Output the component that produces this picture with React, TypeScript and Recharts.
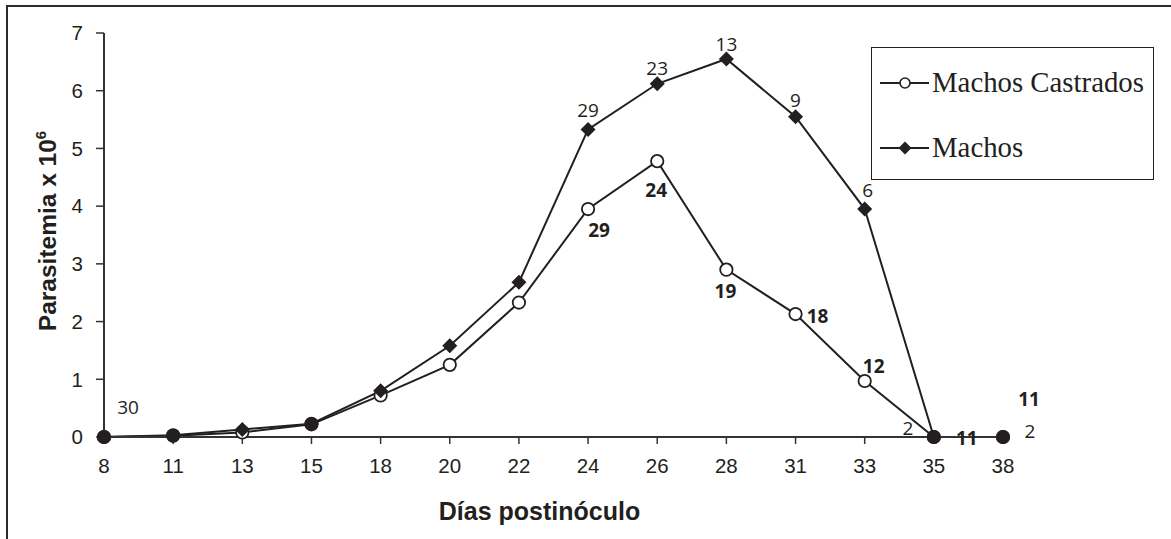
import React from "react";
import { LineChart, Line, XAxis, YAxis, LabelList } from "recharts";

// días postinóculo (categorías del eje X)
const dias = ["8", "11", "13", "15", "18", "20", "22", "24", "26", "28", "31", "33", "35", "38"];
// parasitemia x 10^6
const machosCastrados = [0, 0.02, 0.08, 0.22, 0.72, 1.25, 2.33, 3.95, 4.78, 2.9, 2.13, 0.97, 0, 0];
const machos = [0, 0.03, 0.13, 0.23, 0.8, 1.58, 2.68, 5.33, 6.12, 6.55, 5.55, 3.95, 0, 0];
// n de animales por punto
const nMachos = [30, null, null, null, null, null, null, 29, 23, 13, 9, 6, 2, 2];
const nCastrados = [null, null, null, null, null, null, null, 29, 24, 19, 18, 12, 11, 11];
const yTicks = [0, 1, 2, 3, 4, 5, 6, 7];

const data = dias.map((d, i) => ({
    dia: d,
    castrados: machosCastrados[i],
    machos: machos[i],
    nMachos: nMachos[i],
    nCastrados: nCastrados[i],
}));

// label placement relative to the point [dx, dy]
const machosLabelPos: Record<number, [number, number]> = {
    0: [24, -30], 7: [0, -19], 8: [0, -16], 9: [0, -15], 10: [0, -17], 11: [3, -19], 12: [-26, -9], 13: [27, -6],
};
const castradosLabelPos: Record<number, [number, number]> = {
    7: [11, 21], 8: [-1, 29], 9: [-1, 21], 10: [22, 2], 11: [9, -15], 12: [33, 1], 13: [26, -38],
};

const INK = "#231f20";
const axisFont = { fill: INK, fontSize: 20.5, fontFamily: "'Liberation Sans', Arial, sans-serif" };

const makeLabel = (pos: Record<number, [number, number]>, bold: boolean) => (props: any) => {
    const { value, index } = props;
    if (value == null) return null;
    const x = props.x ?? props.viewBox?.x;
    const y = props.y ?? props.viewBox?.y;
    const [dx, dy] = pos[index] || [0, -16];
    return (
        <text
            x={x + dx}
            y={y + dy}
            textAnchor="middle"
            dominantBaseline="central"
            fontFamily="'Open Sans', sans-serif"
            fontWeight={bold ? 700 : 400}
            fontSize={19}
            fill={INK}
        >
            {value}
        </text>
    );
};

const CircleDot = (props: any) => {
    const { cx, cy, index } = props;
    return <circle key={`c-${index}`} cx={cx} cy={cy} r={6.2} fill="#fff" stroke={INK} strokeWidth={1.8} />;
};

const DiamondDot = (props: any) => {
    const { cx, cy, index, payload } = props;
    if (Math.abs(payload.machos - payload.castrados) < 0.03) {
        return <circle key={`d-${index}`} cx={cx} cy={cy} r={7} fill={INK} />;
    }
    return (
        <path
            key={`d-${index}`}
            d={`M${cx},${cy - 7.5} L${cx + 7.5},${cy} L${cx},${cy + 7.5} L${cx - 7.5},${cy} Z`}
            fill={INK}
        />
    );
};

function LegendBox() {
    const row = (label: string, marker: React.ReactNode) => (
        <div style={{ display: "flex", alignItems: "center", height: 65 }}>
            <svg width={60} height={20} style={{ flex: "none" }}>
                <line x1={8} y1={10} x2={57} y2={10} stroke={INK} strokeWidth={2} />
                {marker}
            </svg>
            <span style={{ fontFamily: "'Liberation Serif', 'Times New Roman', serif", fontSize: 28.8, color: INK, lineHeight: 1 }}>
                {label}
            </span>
        </div>
    );
    return (
        <div
            style={{
                position: "absolute",
                left: 871,
                top: 47,
                border: `1.8px solid ${INK}`,
                width: 283,
                height: 133,
                boxSizing: "border-box",
                background: "#fff",
                paddingTop: 2,
            }}
        >
            {row("Machos Castrados", <circle cx={33} cy={10} r={5} fill="#fff" stroke={INK} strokeWidth={1.6} />)}
            {row("Machos", <path d="M33,3.5 L39.5,10 L33,16.5 L26.5,10 Z" fill={INK} />)}
        </div>
    );
}

export default function App() {
    return (
        <div style={{ position: "absolute", left: 0, top: 0, width: 1171, height: 539, background: "#fff", overflow: "hidden" }}>
            <div
                style={{
                    position: "absolute",
                    left: 6,
                    top: 5,
                    right: 0,
                    bottom: 0,
                    borderTop: "2.5px solid #2b2b2b",
                    borderLeft: "2.5px solid #2b2b2b",
                }}
            />
            <div style={{ position: "absolute", left: 0, top: 0 }}>
                <LineChart width={1171} height={539} data={data} margin={{ top: 33, right: 168, bottom: 0, left: 44 }}>
                    <XAxis
                        dataKey="dia"
                        height={102}
                        tick={axisFont}
                        tickSize={7}
                        tickMargin={14}
                        axisLine={{ stroke: "#333", strokeWidth: 2 }}
                        tickLine={{ stroke: "#333", strokeWidth: 1.5 }}
                        interval={0}
                        label={{
                            content: (p: any) => {
                                const vb = p.viewBox;
                                return (
                                    <text
                                        x={vb.x + vb.width / 2 - 14}
                                        y={vb.y + 83}
                                        textAnchor="middle"
                                        fontFamily="'Liberation Sans', Arial, sans-serif"
                                        fontWeight={700}
                                        fontSize={25}
                                        fill={INK}
                                    >
                                        Días postinóculo
                                    </text>
                                );
                            },
                        }}
                    />
                    <YAxis
                        width={60}
                        domain={[0, 7]}
                        ticks={yTicks}
                        tick={axisFont}
                        tickSize={8}
                        tickMargin={13}
                        axisLine={{ stroke: "#333", strokeWidth: 2 }}
                        tickLine={{ stroke: "#333", strokeWidth: 1.5 }}
                        label={{
                            content: (p: any) => {
                                const vb = p.viewBox;
                                const cx = vb.x + 12;
                                const cy = vb.y + vb.height / 2 - 4;
                                return (
                                    <text
                                        x={cx}
                                        y={cy}
                                        transform={`rotate(-90 ${cx} ${cy})`}
                                        textAnchor="middle"
                                        fontFamily="'Liberation Sans', Arial, sans-serif"
                                        fontWeight={700}
                                        fontSize={24.5}
                                        fill={INK}
                                    >
                                        Parasitemia x 10
                                        <tspan dy={-10} fontSize={15}>6</tspan>
                                    </text>
                                );
                            },
                        }}
                    />
                    <Line
                        dataKey="castrados"
                        name="Machos Castrados"
                        stroke={INK}
                        strokeWidth={2}
                        dot={CircleDot}
                        activeDot={false}
                        isAnimationActive={false}
                    >
                        <LabelList dataKey="nCastrados" content={makeLabel(castradosLabelPos, true)} />
                    </Line>
                    <Line
                        dataKey="machos"
                        name="Machos"
                        stroke={INK}
                        strokeWidth={2}
                        dot={DiamondDot}
                        activeDot={false}
                        isAnimationActive={false}
                    >
                        <LabelList dataKey="nMachos" content={makeLabel(machosLabelPos, false)} />
                    </Line>
                </LineChart>
            </div>
            <LegendBox />
        </div>
    );
}
